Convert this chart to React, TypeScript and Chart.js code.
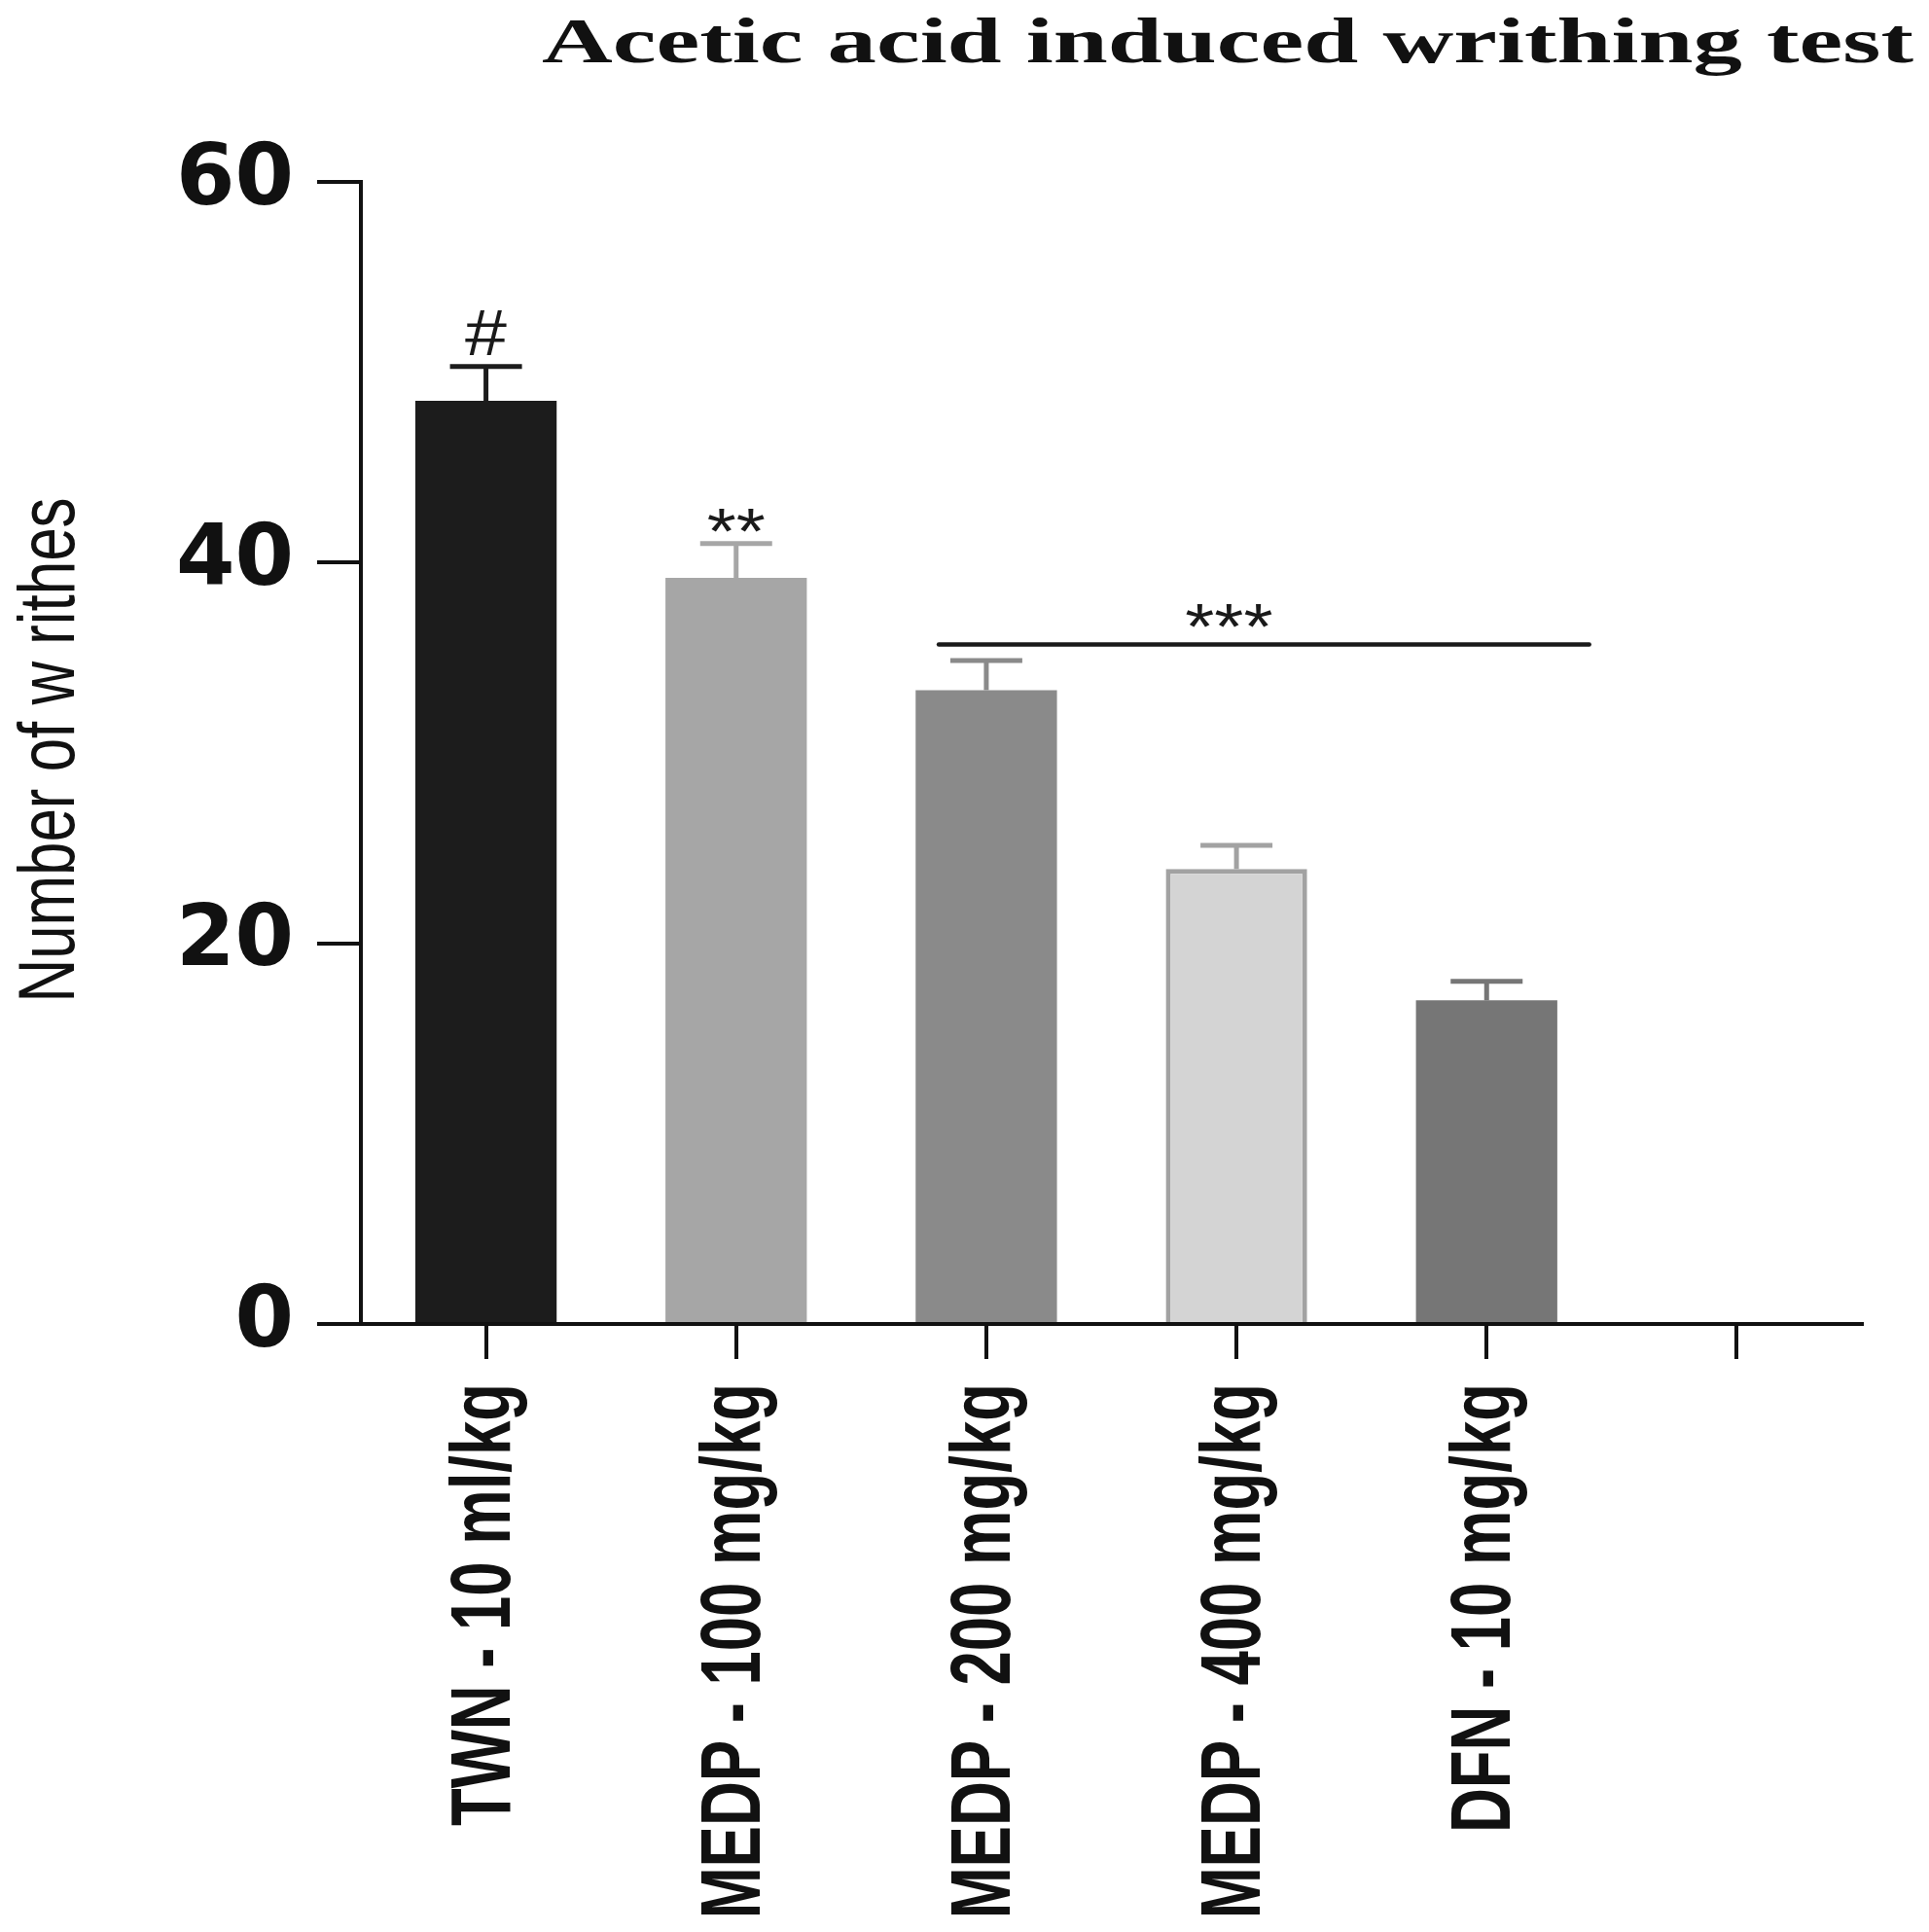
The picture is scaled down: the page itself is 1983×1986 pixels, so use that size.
import React, { useEffect, useRef } from 'react';
import { Chart, registerables } from 'chart.js';

Chart.register(...registerables);

// ---- data ----
const chartTitle = 'Acetic acid induced writhing test';
const yAxisTitle = 'Number of w rithes';
const categories = ['TWN - 10 ml/kg', 'MEDP - 100 mg/kg', 'MEDP - 200 mg/kg', 'MEDP - 400 mg/kg', 'DFN - 10 mg/kg', ''];
const meanWrithes = [48.5, 39.2, 33.3, 23.9, 17.0];
const semWrithes = [1.8, 1.8, 1.55, 1.25, 1.0];
const barMarks = ['#', '**', '', '', ''];
const groupMark = '***';
const groupLineValue = 35.7;
const groupLineFrom = 1.81;
const groupLineTo = 4.41;
const groupMarkAt = 2.97;
const yTickValues = [0, 20, 40, 60];

const fillColors = ['#1c1c1c', '#a6a6a6', '#8a8a8a', '#d4d4d4', '#767676'];
const edgeColors = ['#1c1c1c', '#a6a6a6', '#8a8a8a', '#a2a2a2', '#767676'];
const borderWidths = [0, 0, 0, 5, 0];

const SANS = "'Liberation Sans', Arial, sans-serif";
const SERIF = "'Liberation Serif', 'Times New Roman', serif";

const drawStretched = (ctx: CanvasRenderingContext2D, text: string, sx: number) => {
  ctx.save();
  ctx.scale(sx, 1);
  ctx.fillText(text, 0, 0);
  ctx.restore();
};

const annotationPlugin = {
  id: 'annotations',
  afterDatasetsDraw(chart: any) {
    const ctx: CanvasRenderingContext2D = chart.ctx;
    const xs = chart.scales.x;
    const ys = chart.scales.y;
    const meta = chart.getDatasetMeta(0);
    ctx.save();
    meta.data.forEach((bar: any, i: number) => {
      const cx = bar.x;
      const top = ys.getPixelForValue(meanWrithes[i]);
      const et = ys.getPixelForValue(meanWrithes[i] + semWrithes[i]);
      ctx.strokeStyle = edgeColors[i];
      ctx.lineWidth = 5;
      ctx.lineCap = 'butt';
      ctx.beginPath();
      ctx.moveTo(cx, top);
      ctx.lineTo(cx, et);
      ctx.stroke();
      ctx.beginPath();
      ctx.moveTo(cx - 37, et);
      ctx.lineTo(cx + 37, et);
      ctx.stroke();
      const mark = barMarks[i];
      if (mark) {
        ctx.font = `400 66px ${SANS}`;
        ctx.fillStyle = '#1a1a1a';
        ctx.textAlign = 'center';
        ctx.textBaseline = 'alphabetic';
        const m = ctx.measureText(mark);
        const baseline = et - 12 - m.actualBoundingBoxDescent;
        ctx.save();
        ctx.translate(cx, baseline);
        drawStretched(ctx, mark, 1.17);
        ctx.restore();
      }
    });
    // group significance line
    const ly = ys.getPixelForValue(groupLineValue);
    ctx.strokeStyle = '#1a1a1a';
    ctx.lineWidth = 4.5;
    ctx.lineCap = 'round';
    ctx.beginPath();
    ctx.moveTo(xs.getPixelForValue(groupLineFrom), ly);
    ctx.lineTo(xs.getPixelForValue(groupLineTo), ly);
    ctx.stroke();
    ctx.font = `400 66px ${SANS}`;
    ctx.fillStyle = '#1a1a1a';
    ctx.textAlign = 'center';
    ctx.textBaseline = 'alphabetic';
    const gm = ctx.measureText(groupMark);
    ctx.save();
    ctx.translate(xs.getPixelForValue(groupMarkAt), ly - 17 - gm.actualBoundingBoxDescent);
    drawStretched(ctx, groupMark, 1.17);
    ctx.restore();
    ctx.restore();
  },
  afterDraw(chart: any) {
    const ctx: CanvasRenderingContext2D = chart.ctx;
    const xs = chart.scales.x;
    const area = chart.chartArea;
    ctx.save();
    ctx.fillStyle = '#111111';

    // x category labels (rotated)
    ctx.font = `700 88px ${SANS}`;
    const refW = ctx.measureText(categories[0]).width;
    const sxL = 455 / refW;
    ctx.textAlign = 'right';
    ctx.textBaseline = 'alphabetic';
    categories.forEach((lab, i) => {
      if (!lab) return;
      const px = xs.getPixelForValue(i);
      ctx.save();
      ctx.translate(px + 24, area.bottom + 61);
      ctx.rotate(-Math.PI / 2);
      drawStretched(ctx, lab, sxL);
      ctx.restore();
    });

    // y axis title
    ctx.font = `400 81px ${SANS}`;
    const tw = ctx.measureText(yAxisTitle).width;
    ctx.textAlign = 'center';
    ctx.save();
    ctx.translate(76, 771);
    ctx.rotate(-Math.PI / 2);
    drawStretched(ctx, yAxisTitle, 519 / tw);
    ctx.restore();

    // chart title
    ctx.font = `700 66px ${SERIF}`;
    const ttw = ctx.measureText(chartTitle).width;
    ctx.textAlign = 'left';
    ctx.save();
    ctx.translate(557, 64);
    drawStretched(ctx, chartTitle, 1410 / ttw);
    ctx.restore();

    ctx.restore();
  },
};

export default function App() {
  const canvasRef = useRef<HTMLCanvasElement | null>(null);

  useEffect(() => {
    if (!canvasRef.current) return;
    const chart = new Chart(canvasRef.current, {
      type: 'bar',
      data: {
        labels: categories,
        datasets: [
          {
            data: meanWrithes,
            backgroundColor: fillColors,
            borderColor: edgeColors,
            borderWidth: borderWidths,
            barPercentage: 0.565,
            categoryPercentage: 1,
          },
        ],
      },
      options: {
        animation: false,
        responsive: false,
        devicePixelRatio: 1,
        layout: { padding: { left: 0, top: 187, right: 69, bottom: 0 } },
        plugins: {
          legend: { display: false },
          title: { display: false },
          tooltip: { enabled: false },
        },
        scales: {
          x: {
            type: 'category',
            offset: true,
            grid: {
              display: true,
              offset: false,
              drawOnChartArea: false,
              drawTicks: true,
              tickLength: 36,
              tickWidth: 4,
              lineWidth: 4,
              color: '#111111',
            },
            border: { display: true, color: '#111111', width: 4 },
            ticks: { display: false },
            afterFit: (scale: any) => {
              scale.height = 625;
            },
          },
          y: {
            min: 0,
            max: 60,
            afterBuildTicks: (scale: any) => {
              scale.ticks = yTickValues.map((v) => ({ value: v }));
            },
            grid: {
              display: true,
              drawOnChartArea: false,
              drawTicks: true,
              tickLength: 45,
              tickWidth: 4,
              lineWidth: 4,
              color: '#111111',
            },
            border: { display: true, color: '#111111', width: 4 },
            ticks: {
              padding: 24,
              color: '#111111',
              font: { family: "'DejaVu Sans', sans-serif", weight: 'bold', size: 87 },
            },
            afterFit: (scale: any) => {
              scale.width = 371;
            },
          },
        },
      },
      plugins: [annotationPlugin],
    } as any);
    return () => chart.destroy();
  }, []);

  return (
    <div style={{ position: 'absolute', left: 0, top: 0, width: 1983, height: 1986, background: '#ffffff' }}>
      <canvas ref={canvasRef} width={1983} height={1986} style={{ display: 'block' }} />
    </div>
  );
}
